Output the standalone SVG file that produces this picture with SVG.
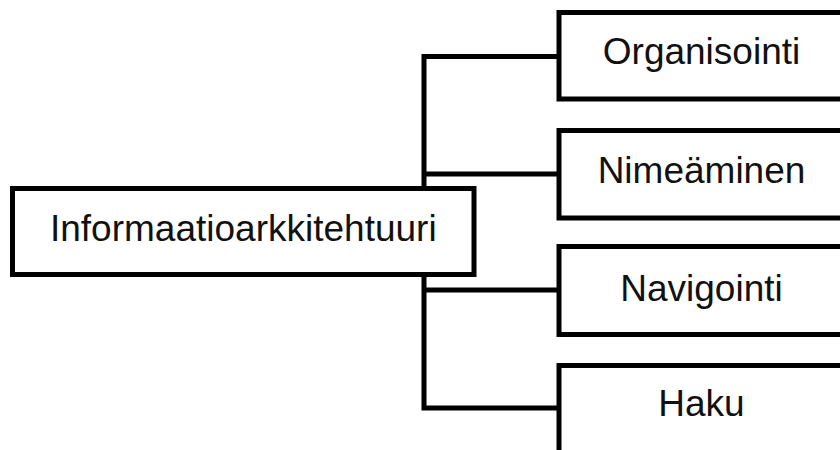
<svg xmlns="http://www.w3.org/2000/svg" width="840" height="450" viewBox="0 0 840 450">
<style>
.box{fill:#fff;stroke:#000;stroke-width:5}
.lbl{font-family:"Liberation Sans",Arial,sans-serif;font-size:37px;fill:#111;text-anchor:middle}
.con{fill:none;stroke:#000;stroke-width:5;stroke-linejoin:miter}
</style>
<rect width="840" height="450" fill="#fff"/>
<g id="connectors">
<path class="con" d="M559,56.5 H424 V408 H559"/>
<path class="con" d="M424,174 H559"/>
<path class="con" d="M424,290 H559"/>
</g>
<g id="root">
<rect class="box" x="12.5" y="188.5" width="461.5" height="86"/>
<text class="lbl" x="243.3" y="240.5">Informaatioarkkitehtuuri</text>
</g>
<g id="organisointi">
<rect class="box" x="559" y="12.5" width="285" height="86.5"/>
<text class="lbl" x="701.5" y="64">Organisointi</text>
</g>
<g id="nimeaminen">
<rect class="box" x="559" y="130.5" width="285" height="87.5"/>
<text class="lbl" x="701.5" y="183">Nimeäminen</text>
</g>
<g id="navigointi">
<rect class="box" x="559" y="246.5" width="285" height="88"/>
<text class="lbl" x="701.5" y="301">Navigointi</text>
</g>
<g id="haku">
<rect class="box" x="559" y="365.5" width="285" height="100"/>
<text class="lbl" x="701.5" y="416">Haku</text>
</g>
</svg>
